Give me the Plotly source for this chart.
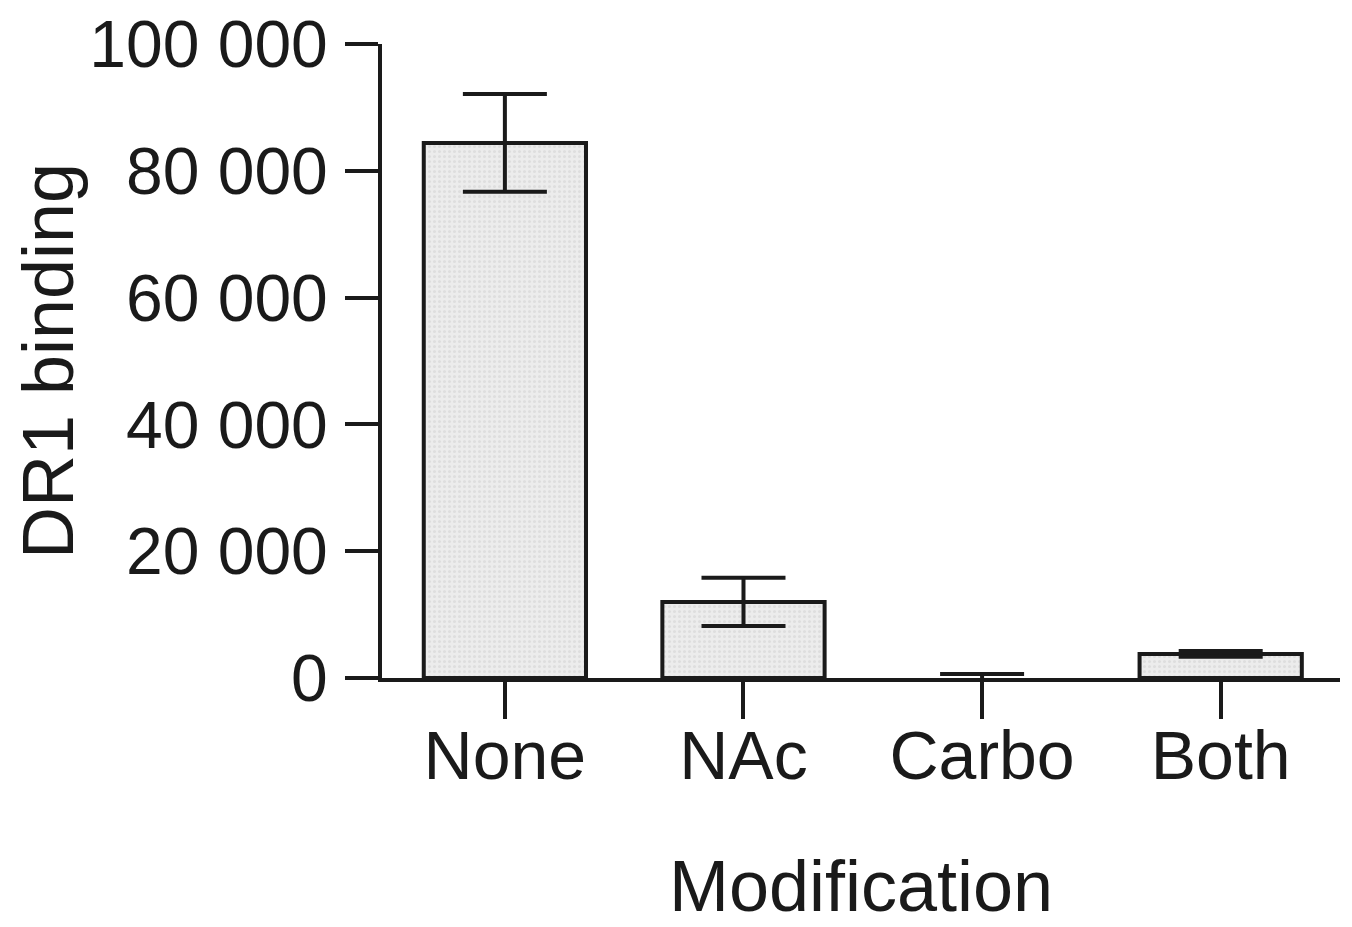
import plotly.graph_objects as go

categories = ["None", "NAc", "Carbo", "Both"]
binding = [84400, 12000, 0, 3800]
binding_err = [7700, 3800, 650, 450]
ytick_vals = [0, 20000, 40000, 60000, 80000, 100000]
ytick_text = ["0", "20 000", "40 000", "60 000", "80 000", "100 000"]

FONT = "Liberation Sans, Arial, sans-serif"
INK = "#1a1a1a"

outline_widths = [4 if v > 0 else 0 for v in binding]

fig = go.Figure()
fig.add_trace(go.Bar(
    x=categories,
    y=binding,
    width=0.68,
    marker=dict(
        color="#e6e6e6",
        line=dict(color=INK, width=outline_widths),
        pattern=dict(shape=".", fgcolor="#cfcfcf", bgcolor="#ececec", size=5, solidity=0.3),
    ),
    error_y=dict(type="data", array=binding_err, visible=True,
                 color=INK, thickness=4, width=42),
    showlegend=False,
))

fig.update_layout(
    width=1344, height=919,
    margin=dict(l=374, r=12, t=36, b=249),
    paper_bgcolor="white", plot_bgcolor="white",
    font=dict(family=FONT, color=INK, size=64),
)
fig.update_xaxes(
    range=[-0.515, 3.5],
    showline=True, linecolor=INK, linewidth=4,
    ticks="outside", ticklen=37, tickwidth=4, tickcolor=INK,
    tickfont=dict(size=68, family=FONT, color=INK),
    ticklabelstandoff=-22,
    showgrid=False, zeroline=False,
    title=dict(text="Modification", font=dict(size=72, family=FONT, color=INK), standoff=70),
    automargin=False,
)
fig.update_yaxes(
    range=[0, 100000],
    tickvals=ytick_vals, ticktext=ytick_text,
    showline=True, linecolor=INK, linewidth=4,
    ticks="outside", ticklen=33, tickwidth=4, tickcolor=INK,
    tickfont=dict(size=66, family=FONT, color=INK),
    ticklabelstandoff=4,
    ticklabeloverflow="allow",
    showgrid=False, zeroline=False,
    title=dict(text="DR1 binding", font=dict(size=72, family=FONT, color=INK), standoff=36),
    automargin=False,
)

fig.write_html("out.html")
